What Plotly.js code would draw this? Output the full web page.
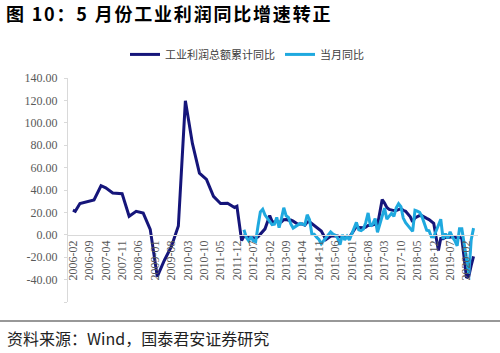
<!DOCTYPE html>
<html>
<head>
<meta charset="utf-8">
<script src="https://cdn.plot.ly/plotly-3.0.1.min.js"></script>
<style>
html,body{margin:0;padding:0;background:#fff;}
#chart{width:500px;height:353px;}
#chart .gtitle{letter-spacing:1.8px;}
</style>
</head>
<body>
<div id="chart"></div>
<script>
// ---- data ----
const titleText = "<b>图 10：5 月份工业利润同比增速转正</b>";
const sourceText = "资料来源：Wind，国泰君安证券研究";
const seriesNames = ["工业利润总额累计同比", "当月同比"];

const darkMonths = [
  "2006-02","2006-03","2006-05","2006-08","2006-11",
  "2007-02","2007-04","2007-07","2007-10","2007-11",
  "2008-02","2008-05","2008-08","2008-11",
  "2009-02","2009-05","2009-08","2009-11",
  "2010-02","2010-05","2010-08","2010-11",
  "2011-02","2011-05","2011-08","2011-11","2011-12",
  "2012-02","2012-03","2012-04","2012-05","2012-06","2012-07","2012-08","2012-09","2012-10","2012-11","2012-12",
  "2013-02","2013-03","2013-04","2013-05","2013-06","2013-07","2013-08","2013-09","2013-10","2013-11","2013-12",
  "2014-02","2014-03","2014-04","2014-05","2014-06","2014-07","2014-08","2014-09","2014-10","2014-11","2014-12",
  "2015-02","2015-03","2015-04","2015-05","2015-06","2015-07","2015-08","2015-09","2015-10","2015-11","2015-12",
  "2016-02","2016-03","2016-04","2016-05","2016-06","2016-07","2016-08","2016-09","2016-10","2016-11","2016-12",
  "2017-02","2017-03","2017-04","2017-05","2017-06","2017-07","2017-08","2017-09","2017-10","2017-11","2017-12",
  "2018-02","2018-03","2018-04","2018-05","2018-06","2018-07","2018-08","2018-09","2018-10","2018-11","2018-12",
  "2019-02","2019-03","2019-04","2019-05","2019-06","2019-07","2019-08","2019-09","2019-10","2019-11","2019-12",
  "2020-02","2020-03","2020-04","2020-05"
];
const darkValues = [
  22, 21, 28, 29.6, 31.2,
  43.8, 42, 37.3, 36.7, 36.7,
  16.5, 20.9, 19.4, 4.9,
  -37.3, -22.9, -10.6, 7.8,
  119.6, 81.6, 55.0, 49.4,
  34.3, 27.9, 28.2, 24.4, 25.4,
  -5.2, -1.3, -1.6, -2.4, -2.2, -2.7, -3.1, -1.8, 0.5, 3.0, 5.3,
  17.2, 12.1, 10.9, 12.3, 11.1, 11.6, 13.5, 13.7, 13.1, 13.2, 12.2,
  9.4, 9.6, 9.6, 8.6, 11.4, 11.6, 10.0, 7.9, 6.7, 5.3, 3.3,
  -4.2, -2.7, -1.3, -0.8, -0.7, -1.0, -1.9, -1.7, -2.0, -1.9, -2.3,
  4.8, 7.4, 6.5, 6.4, 6.2, 6.9, 8.4, 8.4, 8.6, 9.4, 8.5,
  31.5, 28.3, 24.4, 22.7, 22.0, 21.6, 21.6, 22.8, 23.3, 21.9, 21.0,
  16.1, 11.6, 15.0, 16.5, 17.2, 17.1, 16.2, 14.7, 13.6, 11.8, 10.3,
  -14.0, -3.3, -3.4, -2.3, -2.4, -1.7, -1.7, -2.1, -2.9, -2.1, -3.3,
  -38.3, -36.7, -27.4, -19.3
];

const lightMonths = [
  "2012-03","2012-04","2012-05","2012-06","2012-07","2012-08","2012-09","2012-10","2012-11","2012-12",
  "2013-03","2013-04","2013-05","2013-06","2013-07","2013-08","2013-09","2013-10","2013-11","2013-12",
  "2014-03","2014-04","2014-05","2014-06","2014-07","2014-08","2014-09","2014-10","2014-11","2014-12",
  "2015-03","2015-04","2015-05","2015-06","2015-07","2015-08","2015-09","2015-10","2015-11","2015-12",
  "2016-03","2016-04","2016-05","2016-06","2016-07","2016-08","2016-09","2016-10","2016-11","2016-12",
  "2017-03","2017-04","2017-05","2017-06","2017-07","2017-08","2017-09","2017-10","2017-11","2017-12",
  "2018-03","2018-04","2018-05","2018-06","2018-07","2018-08","2018-09","2018-10","2018-11","2018-12",
  "2019-03","2019-04","2019-05","2019-06","2019-07","2019-08","2019-09","2019-10","2019-11","2019-12",
  "2020-03","2020-04","2020-05"
];
const lightValues = [
  4.5, -2.2, -5.3, -1.7, -5.4, -6.2, 7.8, 20.5, 22.8, 17.6,
  9.0, 9.4, 15.5, 6.3, 14.4, 24.2, 17.0, 15.5, 9.7, 6.0,
  10.1, 9.6, 8.9, 17.9, 13.5, 0.4, 0.4, -2.1, -4.2, -8.0,
  -0.4, 2.6, 0.6, -0.3, -2.9, -8.8, -0.1, -4.6, -1.4, -4.7,
  11.1, 4.4, 3.7, 5.1, 11.0, 19.5, 7.7, 9.8, 14.5, 2.3,
  23.8, 14.0, 16.7, 19.1, 16.5, 24.0, 27.7, 25.1, 14.9, 10.8,
  3.1, 21.9, 21.1, 20.0, 16.2, 9.2, 4.1, 3.6, -1.8, -1.9,
  13.9, -3.7, 1.1, -3.1, 2.6, -2.0, -5.3, -9.9, 5.4, 5.4,
  -34.9, -4.3, 6.0
];

const xTickLabels = [
  "2006-02","2006-09","2007-04","2007-11","2008-06","2009-01","2009-08","2010-03",
  "2010-10","2011-05","2011-12","2012-07","2013-02","2013-09","2014-04","2014-11",
  "2015-06","2016-01","2016-08","2017-03","2017-10","2018-05","2018-12","2019-07","2020-02"
];
const yTickVals = [-60, -40, -20, 0, 20, 40, 60, 80, 100, 120, 140];
const yTickText = ["", "-40.00", "-20.00", "0.00", "20.00", "40.00", "60.00", "80.00", "100.00", "120.00", "140.00"];

// all monthly categories from 2006-02 to 2020-05
const allMonths = [];
for (let y = 2006; y <= 2020; y++) {
  for (let m = 1; m <= 12; m++) {
    if (y === 2006 && m < 2) continue;
    if (y === 2020 && m > 5) continue;
    allMonths.push(y + "-" + (m < 10 ? "0" + m : "" + m));
  }
}

const traces = [
  {
    type: "scatter", mode: "lines", name: seriesNames[0],
    x: darkMonths, y: darkValues,
    line: {color: "#15157a", width: 3}
  },
  {
    type: "scatter", mode: "lines", name: seriesNames[1],
    x: lightMonths, y: lightValues,
    line: {color: "#1fa9df", width: 3}
  }
];

const serif = "Liberation Serif, Times New Roman, serif";
const cjk = "Noto Sans CJK SC, sans-serif";

const layout = {
  width: 500, height: 353,
  margin: {l: 68, r: 22, t: 78, b: 51, pad: 0},
  paper_bgcolor: "#ffffff", plot_bgcolor: "#ffffff",
  showlegend: true,
  title: {
    text: titleText,
    font: {family: cjk, size: 18, color: "#000000"},
    x: 0.012, xref: "container", xanchor: "left",
    y: 0.958, yref: "container", yanchor: "middle"
  },
  legend: {
    orientation: "h",
    x: 0.139, xanchor: "left",
    y: 1.17, yanchor: "top",
    font: {family: cjk, size: 11, color: "#404040"},
    bgcolor: "rgba(0,0,0,0)",
    itemwidth: 30
  },
  xaxis: {
    type: "category",
    categoryorder: "array",
    categoryarray: allMonths,
    range: [-2.1, 172.9],
    tickmode: "array",
    tickvals: xTickLabels,
    ticktext: xTickLabels,
    tickangle: -90,
    tickfont: {family: serif, size: 12, color: "#595959"},
    showgrid: false, zeroline: false,
    showline: true, linecolor: "#d9d9d9", linewidth: 1,
    ticks: "", anchor: "free", position: 0.3
  },
  yaxis: {
    range: [-60, 140],
    tickmode: "array",
    tickvals: yTickVals,
    ticktext: yTickText,
    tickfont: {family: serif, size: 12, color: "#595959"},
    showgrid: false, zeroline: false,
    showline: true, linecolor: "#d9d9d9", linewidth: 1,
    ticks: "outside", ticklen: 3, tickcolor: "#d9d9d9",
    ticklabelstandoff: 4
  },
  shapes: [
    {type: "line", xref: "paper", yref: "paper",
     x0: -68/410, x1: 432/410, y0: -19/224, y1: -19/224,
     line: {color: "#333333", width: 1.2}}
  ],
  annotations: [
    {text: sourceText, xref: "paper", yref: "paper",
     x: -63/410, y: -36/224, xanchor: "left", yanchor: "middle",
     showarrow: false,
     font: {family: cjk, size: 16, color: "#222222"}}
  ]
};

Plotly.newPlot("chart", traces, layout, {staticPlot: true, displayModeBar: false});
</script>
</body>
</html>
